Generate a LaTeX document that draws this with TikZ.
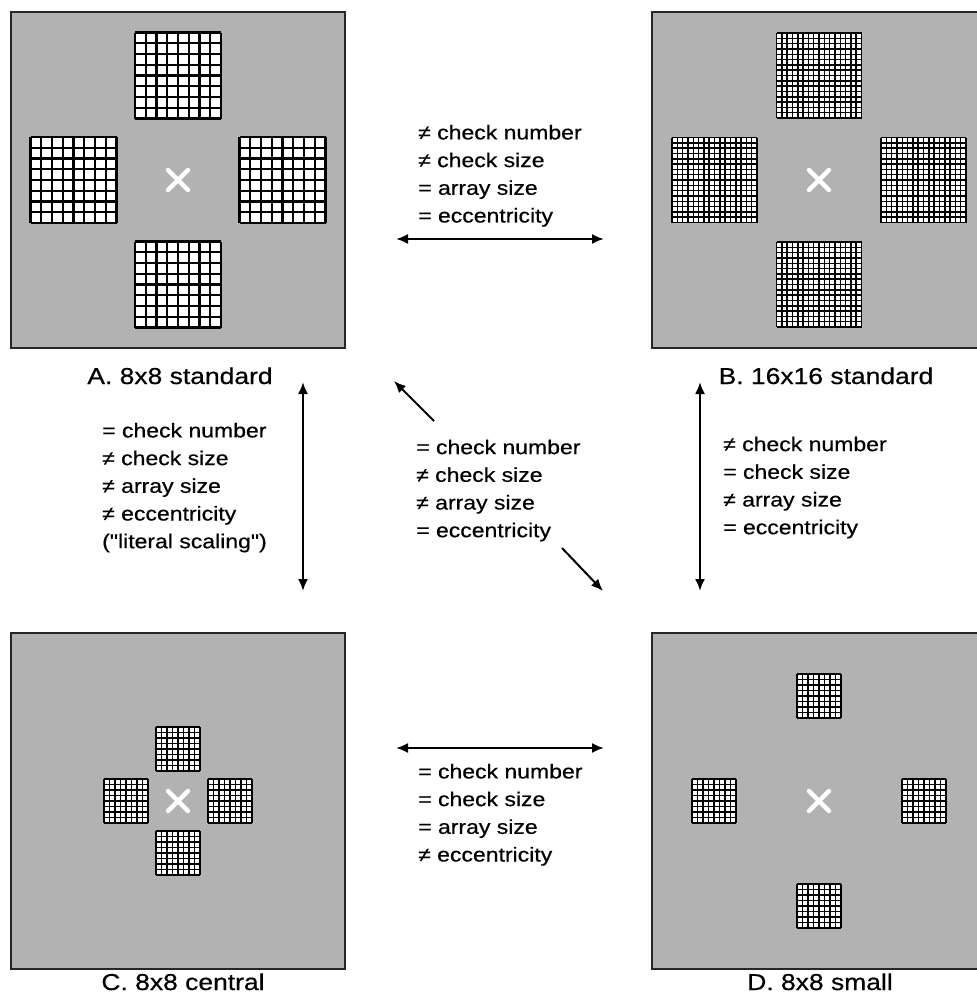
\documentclass[tikz,border=0pt]{standalone}
\usepackage{fontspec}
\setmainfont{Liberation Sans}[FakeStretch=1.15, FakeBold=0.5, Ligatures=TeXOff]
\usetikzlibrary{arrows.meta}
\definecolor{panelgray}{RGB}{178,178,178}
\newcommand{\chkgrid}[5]{%
  \fill[white] ({#1-#3/2},{#2-#3/2}) rectangle ({#1+#3/2},{#2+#3/2});
  \foreach \i in {0,...,#4} {
    \draw[line width=#5] ({#1-#3/2+\i*#3/#4},{#2-#3/2}) -- ++(0,#3);
    \draw[line width=#5] ({#1-#3/2},{#2-#3/2+\i*#3/#4}) -- ++(#3,0);
  }%
}
\newcommand{\fourgrids}[6]{% cx cy offset size n lw
  \chkgrid{#1}{#2-#3}{#4}{#5}{#6}
  \chkgrid{#1}{#2+#3}{#4}{#5}{#6}
  \chkgrid{#1-#3}{#2}{#4}{#5}{#6}
  \chkgrid{#1+#3}{#2}{#4}{#5}{#6}
  \draw[white, line width=4.5pt, line cap=round] (#1-10,#2-10) -- (#1+10,#2+10) (#1-10,#2+10) -- (#1+10,#2-10);
}
\begin{document}
\begin{tikzpicture}[x=1pt, y=-1pt,
  panel/.style={draw=black!85, line width=1.5pt, fill=panelgray, minimum width=334pt, minimum height=336pt, inner sep=0pt},
  lbl/.style={font=\fontsize{23}{27}\selectfont, inner sep=0pt},
  block/.style={font=\fontsize{20}{27.7}\selectfont, align=left, inner sep=0pt, anchor=north west},
  dbl/.style={{Latex[length=12pt,width=10pt]}-{Latex[length=12pt,width=10pt]}, line width=2pt},
  sgl/.style={-{Latex[length=12pt,width=10pt]}, line width=2pt}]
\clip (0,0) rectangle (977,1004);
\fill[white] (0,0) rectangle (977,1004);

% panels
\node[panel] (A) at (178,180) {};
\node[panel] (B) at (819,180) {};
\node[panel] (C) at (178,801) {};
\node[panel] (D) at (819,801) {};

\fourgrids{178}{180}{104.5}{86}{8}{2.3pt}
\fourgrids{819}{180}{104.5}{85}{16}{1.5pt}
\fourgrids{178}{801}{52}{44}{8}{1.4pt}
\fourgrids{819}{801}{105}{44}{8}{1.4pt}

% labels
\node[lbl, anchor=base] (Alab) at (180,384) {A. 8x8 standard};
\node[lbl, anchor=base] (Blab) at (826,384) {B. 16x16 standard};
\node[lbl, anchor=base] (Clab) at (183,990) {C. 8x8 central};
\node[lbl, anchor=base] (Dlab) at (820,990) {D. 8x8 small};

% text blocks
\node[block] (tAB) at (418,124.7) {≠ check number\\≠ check size\\= array size\\= eccentricity};
\node[block] (tAC) at (102,422.7) {= check number\\≠ check size\\≠ array size\\≠ eccentricity\\("literal scaling")};
\node[block] (tAD) at (416,439.4) {= check number\\≠ check size\\≠ array size\\= eccentricity};
\node[block] (tBD) at (723,436.4) {≠ check number\\= check size\\≠ array size\\= eccentricity};
\node[block] (tCD) at (418,763.7) {= check number\\= check size\\= array size\\≠ eccentricity};

% arrow end points
\coordinate (ab1) at (396,239);
\coordinate (ab2) at (604,239);
\coordinate (ac1) at (303,382);
\coordinate (ac2) at (303,591);
\coordinate (bd1) at (700,382);
\coordinate (bd2) at (700,591);
\coordinate (cd1) at (396,748);
\coordinate (cd2) at (604,748);
\coordinate (adA) at (394,381);
\coordinate (adAt) at (434,421);
\coordinate (adDt) at (562,548);
\coordinate (adD) at (603,591);

\draw[dbl] (ab1) -- (ab2);
\draw[dbl] (ac1) -- (ac2);
\draw[dbl] (bd1) -- (bd2);
\draw[dbl] (cd1) -- (cd2);
\draw[sgl] (adAt) -- (adA);
\draw[sgl] (adDt) -- (adD);
\end{tikzpicture}
\end{document}
